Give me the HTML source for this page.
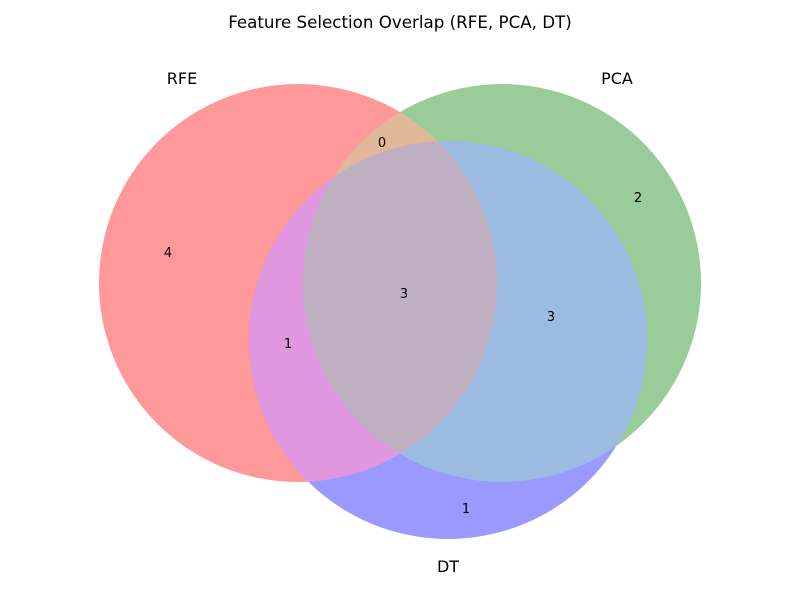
<!DOCTYPE html>
<html><head><meta charset="utf-8"><style>html,body{margin:0;padding:0;background:#fff}svg{display:block}</style></head>
<body>
<svg width="800" height="600" xmlns="http://www.w3.org/2000/svg" font-family="DejaVu Sans, Liberation Sans, sans-serif">
<defs>
<clipPath id="cA"><circle cx="298" cy="283" r="199"/></clipPath>
<clipPath id="cB"><circle cx="502" cy="283" r="199"/></clipPath>
</defs>
<rect width="800" height="600" fill="#fff"/>
<circle cx="298" cy="283" r="199" fill="#ff9999"/>
<circle cx="502" cy="283" r="199" fill="#99cc99"/>
<circle cx="448" cy="340" r="199" fill="#9999ff"/>
<circle cx="502" cy="283" r="199" fill="#e0b897" clip-path="url(#cA)"/>
<circle cx="448" cy="340" r="199" fill="#df97df" clip-path="url(#cA)"/>
<circle cx="448" cy="340" r="199" fill="#9bbbe1" clip-path="url(#cB)"/>
<g clip-path="url(#cA)"><circle cx="448" cy="340" r="199" fill="#bfafc2" clip-path="url(#cB)"/></g>
<text x="400" y="28" font-size="16.7" text-anchor="middle">Feature Selection Overlap (RFE, PCA, DT)</text>
<text x="182" y="84" font-size="16" text-anchor="middle">RFE</text>
<text x="617" y="84" font-size="16" text-anchor="middle">PCA</text>
<text x="448" y="572" font-size="16" text-anchor="middle">DT</text>
<g font-size="13" text-anchor="middle">
<text x="382" y="147">0</text>
<text x="638" y="202">2</text>
<text x="168" y="257">4</text>
<text x="404" y="298">3</text>
<text x="551" y="321">3</text>
<text x="288" y="348">1</text>
<text x="466" y="513">1</text>
</g>
</svg>
</body></html>
